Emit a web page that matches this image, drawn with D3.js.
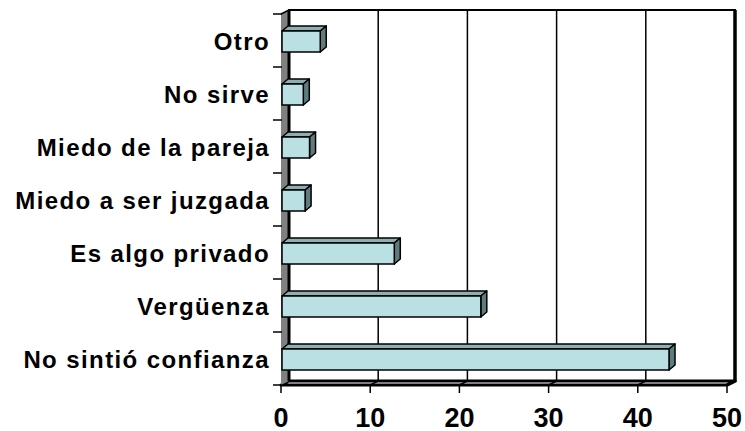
<!DOCTYPE html>
<html>
<head>
<meta charset="utf-8">
<script src="https://cdn.jsdelivr.net/npm/d3@7"></script>
<style>
  body { margin: 0; background: #fff; }
  svg { display: block; font-family: "Liberation Sans", Arial, sans-serif; }
</style>
</head>
<body>
<svg id="chart" width="745" height="431" viewBox="0 0 745 431"></svg>
<script>
// categories top to bottom, as they appear in the chart
const categories = ["Otro", "No sirve", "Miedo de la pareja", "Miedo a ser juzgada",
                    "Es algo privado", "Vergüenza", "No sintió confianza"]
const values = [4.4, 2.5, 3.2, 2.7, 12.7, 22.4, 43.5]
const xTicks = [0, 10, 20, 30, 40, 50]

const svg = d3.select("#chart")

// front plane of the 3d box and its depth offset
const x = d3.scaleLinear().domain([0, 50]).range([281, 727])
const y = d3.scaleBand().domain(categories).range([14, 385])
const yTop = 14, yBottom = 385
const dx = 8, dy = -4       // wall depth
const bx = 6, by = -5       // bar depth
const barH = 21

const line = d3.line()

// back wall
svg.append("rect")
    .attr("x", x(0) + dx).attr("y", yTop + dy)
    .attr("width", x(50) - x(0)).attr("height", yBottom - yTop)
    .attr("fill", "#fff").attr("stroke", "#000").attr("stroke-width", 2)

// floor
svg.append("path")
    .attr("d", line([[x(0), yBottom], [x(0) + dx, yBottom + dy], [x(50) + dx, yBottom + dy], [x(50), yBottom]]) + "Z")
    .attr("fill", "#fff").attr("stroke", "#000").attr("stroke-width", 3)
    .attr("stroke-linejoin", "round")

// gridlines: back wall + floor
svg.append("g").selectAll("path")
    .data(xTicks.slice(1, -1))
    .enter()
    .append("path")
    .attr("d", d => line([[x(d) + dx, yTop + dy], [x(d) + dx, yBottom + dy], [x(d), yBottom]]))
    .attr("fill", "none").attr("stroke", "#000").attr("stroke-width", 1.5)

// right edge of back wall a bit heavier
svg.append("path")
    .attr("d", line([[x(50) + dx, yTop + dy], [x(50) + dx, yBottom + dy], [x(50), yBottom]]))
    .attr("fill", "none").attr("stroke", "#000").attr("stroke-width", 3.5)

// left wall
svg.append("path")
    .attr("d", line([[x(0), yTop], [x(0) + dx, yTop + dy], [x(0) + dx, yBottom + dy], [x(0), yBottom]]) + "Z")
    .attr("fill", "#808080")
svg.append("path")
    .attr("d", line([[x(0) + dx, yTop + dy], [x(0) + dx, yBottom + dy]]))
    .attr("stroke", "#000").attr("stroke-width", 3)
svg.append("path")
    .attr("d", line([[x(0), yTop], [x(0) + dx, yTop + dy]]))
    .attr("stroke", "#000").attr("stroke-width", 1.5)

// bars
const bars = svg.append("g").selectAll("g")
    .data(categories.map((c, i) => ({cat: c, v: values[i]})))
    .enter()
    .append("g")

bars.each(function (d) {
    const g = d3.select(this)
    const y0 = y(d.cat) + y.bandwidth() / 2 + 1 - barH / 2
    const y1 = y0 + barH
    const x0 = x(0) + 1, x1 = x(d.v)
    // top face
    g.append("path")
        .attr("d", line([[x0, y0], [x0 + bx, y0 + by], [x1 + bx, y0 + by], [x1, y0]]) + "Z")
        .attr("fill", "#8DAFB1").attr("stroke", "#000").attr("stroke-width", 1.5)
        .attr("stroke-linejoin", "round")
    // side face
    g.append("path")
        .attr("d", line([[x1, y0], [x1 + bx, y0 + by], [x1 + bx, y1 + by], [x1, y1]]) + "Z")
        .attr("fill", "#5E7C7E").attr("stroke", "#000").attr("stroke-width", 1.5)
        .attr("stroke-linejoin", "round")
    // front face
    g.append("rect")
        .attr("x", x0).attr("y", y0)
        .attr("width", x1 - x0).attr("height", barH)
        .attr("fill", "#BBE0E3").attr("stroke", "#000").attr("stroke-width", 1.5)
})

// y axis ticks (category boundaries)
const yBounds = categories.map(c => y(c)).concat([yBottom])
svg.append("g").selectAll("line")
    .data(yBounds)
    .enter()
    .append("line")
    .attr("x1", 273).attr("x2", x(0) + 1)
    .attr("y1", d => d).attr("y2", d => d)
    .attr("stroke", "#000").attr("stroke-width", 1.5)

// x axis ticks
svg.append("g").selectAll("line")
    .data(xTicks)
    .enter()
    .append("line")
    .attr("x1", d => x(d)).attr("x2", d => x(d))
    .attr("y1", yBottom).attr("y2", yBottom + 8)
    .attr("stroke", "#000").attr("stroke-width", 1.5)

// category labels
svg.append("g").selectAll("text")
    .data(categories)
    .enter()
    .append("text")
    .attr("x", 270)
    .attr("y", d => y(d) + y.bandwidth() / 2 + 1)
    .attr("text-anchor", "end")
    .attr("dominant-baseline", "central")
    .attr("font-size", 24)
    .attr("font-weight", "bold")
    .attr("letter-spacing", 1.4)
    .text(d => d)

// x tick labels
svg.append("g").selectAll("text")
    .data(xTicks)
    .enter()
    .append("text")
    .attr("x", d => x(d))
    .attr("y", 427)
    .attr("text-anchor", "middle")
    .attr("font-size", 27)
    .attr("font-weight", "bold")
    .text(d => d)
</script>
</body>
</html>
